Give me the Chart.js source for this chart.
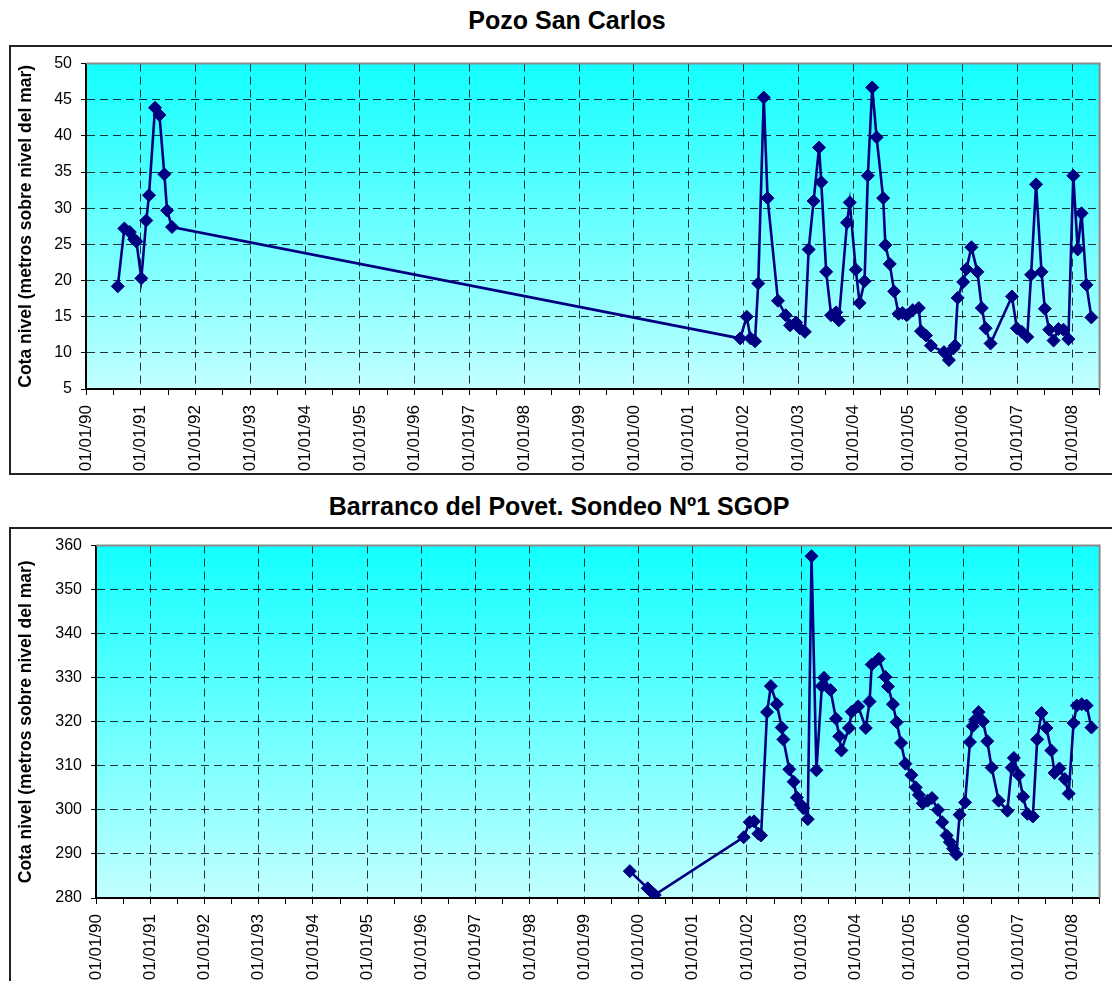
<!DOCTYPE html>
<html lang="es">
<head>
<meta charset="utf-8">
<title>Cota nivel</title>
<script src="https://cdn.jsdelivr.net/npm/chart.js@4.4.1/dist/chart.umd.min.js"></script>
<style>
    html, body { margin: 0; padding: 0; background: #fff; overflow: hidden; width: 1112px; height: 981px; }
    body { position: relative; font-family: "Liberation Sans", Arial, sans-serif; }
    .titulo { position: absolute; left: 0; text-align: center; font-weight: bold; font-size: 25px; line-height: 28px; color: #000; }
    .marco { position: absolute; left: 9px; width: 1130px; border: 2px solid #222; box-sizing: border-box; }
    canvas { position: absolute; left: 0; }
</style>
</head>
<body>
<div class="titulo" style="top:6px; width:1134px;">Pozo San Carlos</div>
<div class="marco" style="top:45px; height:430px;"></div>
<canvas id="pozoSanCarlos" width="1130" height="435" style="top:45px"></canvas>

<div class="titulo" style="top:492px; width:1118px;">Barranco del Povet. Sondeo Nº1 SGOP</div>
<div class="marco" style="top:527px; height:480px;"></div>
<canvas id="barrancoPovet" width="1130" height="460" style="top:527px"></canvas>

<script>
// fechas en años decimales, cotas en m s.n.m.
const fechasPozo = [
    1990.58, 1990.70, 1990.80, 1990.88, 1990.92, 1991.01, 1991.10, 1991.15, 1991.26, 1991.34,
    1991.43, 1991.48, 1991.57,
    2001.94, 2002.06, 2002.13, 2002.21, 2002.27, 2002.37, 2002.44, 2002.63, 2002.77, 2002.85,
    2002.96, 2003.03, 2003.12, 2003.19, 2003.28, 2003.38, 2003.42, 2003.51, 2003.60, 2003.69,
    2003.74, 2003.89, 2003.94, 2004.05, 2004.12, 2004.21, 2004.27, 2004.35, 2004.43, 2004.55,
    2004.59, 2004.67, 2004.75, 2004.83, 2004.90, 2004.98, 2005.09, 2005.20, 2005.24, 2005.33,
    2005.42, 2005.66, 2005.75, 2005.83, 2005.86, 2005.91, 2006.01, 2006.07, 2006.16, 2006.27,
    2006.35, 2006.42, 2006.51, 2006.90, 2006.99, 2007.08, 2007.18, 2007.25, 2007.34, 2007.44,
    2007.50, 2007.58, 2007.66, 2007.75, 2007.84, 2007.93, 2008.02, 2008.10, 2008.17, 2008.26,
    2008.35
];
const cotasPozo = [
    19.2, 27.2, 26.7, 25.7, 25.4, 20.3, 28.3, 31.8, 43.9, 42.9,
    34.7, 29.7, 27.4,
    12.0, 15.0, 12.0, 11.6, 19.6, 45.3, 31.4, 17.2, 15.2, 13.8,
    14.2, 13.4, 12.9, 24.3, 31.0, 38.4, 33.6, 21.2, 15.2, 15.6,
    14.5, 28.0, 30.8, 21.5, 16.9, 19.9, 34.5, 46.7, 39.8, 31.4,
    24.9, 22.3, 18.5, 15.4, 15.5, 15.2, 15.9, 16.2, 13.0, 12.4,
    11.0, 10.1, 9.0, 10.6, 11.0, 17.6, 19.8, 21.6, 24.6, 21.2,
    16.2, 13.4, 11.3, 17.8, 13.4, 12.9, 12.2, 20.8, 33.3, 21.2,
    16.1, 13.2, 11.7, 13.3, 13.2, 11.9, 34.5, 24.3, 29.3, 19.4,
    14.9
];

const fechasPovet = [
    1999.84, 2000.17, 2000.24, 2000.30,
    2001.94, 2002.05, 2002.13, 2002.21, 2002.26, 2002.37, 2002.44, 2002.55, 2002.64, 2002.67,
    2002.78, 2002.86, 2002.92, 2002.99, 2003.04, 2003.12, 2003.19, 2003.28, 2003.38, 2003.42,
    2003.54, 2003.64, 2003.70, 2003.74, 2003.88, 2003.93, 2004.05, 2004.19, 2004.26, 2004.30,
    2004.43, 2004.55, 2004.60, 2004.69, 2004.76, 2004.84, 2004.92, 2005.03, 2005.11, 2005.17,
    2005.24, 2005.33, 2005.41, 2005.52, 2005.60, 2005.68, 2005.74, 2005.80, 2005.86, 2005.92,
    2006.02, 2006.11, 2006.16, 2006.21, 2006.27, 2006.35, 2006.43, 2006.51, 2006.64, 2006.80,
    2006.88, 2006.92, 2007.01, 2007.09, 2007.17, 2007.27, 2007.35, 2007.43, 2007.52, 2007.61,
    2007.67, 2007.76, 2007.86, 2007.93, 2008.02, 2008.08, 2008.17, 2008.26, 2008.35
];
const cotasPovet = [
    286.1, 282.2, 281.4, 280.7,
    293.8, 297.2, 297.4, 294.6, 294.2, 322.2, 328.1, 324.0, 318.7, 316.0,
    309.2, 306.4, 302.8, 301.2, 300.4, 297.9, 357.6, 309.0, 328.1, 330.0,
    327.2, 320.7, 316.7, 313.5, 318.6, 322.3, 323.5, 318.6, 324.6, 333.0,
    334.3, 330.2, 328.0, 324.0, 319.9, 315.2, 310.5, 307.9, 305.1, 303.4,
    301.5, 302.1, 302.7, 300.0, 297.2, 294.2, 292.7, 291.2, 289.9, 298.9,
    301.7, 315.4, 319.0, 320.5, 322.2, 320.1, 315.6, 309.6, 302.1, 299.8,
    309.6, 311.8, 307.9, 303.0, 299.1, 298.5, 316.0, 322.0, 318.6, 313.5,
    308.4, 309.4, 307.0, 303.7, 319.7, 323.7, 324.0, 323.7, 318.7
];

// marcas del eje X: 01/01 de cada año y medio año (sin texto)
const aniosEje = [1990, 1991, 1992, 1993, 1994, 1995, 1996, 1997, 1998, 1999,
                  2000, 2001, 2002, 2003, 2004, 2005, 2006, 2007, 2008];
const marcasX = [];
aniosEje.forEach(a => { marcasX.push(a); marcasX.push(a + 0.5); });

const tituloEjeY = 'Cota nivel (metros sobre nivel del mar)';

Chart.defaults.font.family = '"Liberation Sans", Arial, sans-serif';
Chart.defaults.color = '#000';

const fondoDegradado = {
    id: 'fondoDegradado',
    beforeDraw(chart) {
        const { ctx, chartArea: a } = chart;
        const g = ctx.createLinearGradient(0, a.top, 0, a.bottom);
        g.addColorStop(0, '#12FFFF');
        g.addColorStop(1, '#C2FFFF');
        ctx.save();
        ctx.fillStyle = g;
        ctx.fillRect(a.left, a.top, a.width, a.height);
        ctx.restore();
    },
    beforeDatasetsDraw(chart) {
        const { ctx, chartArea: a } = chart;
        ctx.save();
        ctx.strokeStyle = '#8a8a8a';
        ctx.lineWidth = 2;
        ctx.beginPath();
        ctx.moveTo(a.left, a.top);
        ctx.lineTo(a.right, a.top);
        ctx.lineTo(a.right, a.bottom);
        ctx.stroke();
        ctx.restore();
    }
};

function etiquetaFecha(v) {
    if (!Number.isInteger(v)) return '';
    return '01/01/' + String(v % 100).padStart(2, '0');
}

function crearGrafico(id, fechas, cotas, cfg) {
    const ctx = document.getElementById(id).getContext('2d');
    new Chart(ctx, {
        type: 'line',
        data: {
            datasets: [{
                data: fechas.map((f, i) => ({ x: f, y: cotas[i] })),
                borderColor: '#000080',
                backgroundColor: '#000080',
                borderWidth: 2.6,
                pointStyle: 'rectRot',
                pointRadius: 6.5,
                pointBorderWidth: 1,
                tension: 0
            }]
        },
        options: {
            responsive: false,
            animation: false,
            layout: { padding: { left: 0, right: 26, top: 16, bottom: 0 } },
            plugins: {
                legend: { display: false },
                tooltip: { enabled: false }
            },
            scales: {
                x: {
                    type: 'linear',
                    min: 1990,
                    max: 2008.5,
                    afterBuildTicks: ax => { ax.ticks = marcasX.map(v => ({ value: v })); },
                    afterFit: ax => { ax.height = cfg.altoEjeX; },
                    ticks: {
                        autoSkip: false,
                        maxRotation: 90,
                        minRotation: 90,
                        padding: 10,
                        font: { size: 17 },
                        callback: etiquetaFecha
                    },
                    grid: {
                        color: c => (c.tick && Number.isInteger(c.tick.value)) ? 'rgba(0,0,0,0.8)' : 'rgba(0,0,0,0)',
                        tickColor: '#000',
                        tickLength: 6,
                        lineWidth: 1
                    },
                    border: { color: '#000', width: 2, dash: [8, 5] }
                },
                y: {
                    min: cfg.min,
                    max: cfg.max,
                    afterFit: ax => { ax.width = cfg.anchoEjeY; },
                    ticks: { stepSize: cfg.paso, padding: 9, font: { size: 16 } },
                    title: {
                        display: true,
                        text: tituloEjeY,
                        font: { size: 17.5, weight: 'bold' },
                        padding: { top: 16, bottom: 0 }
                    },
                    grid: { color: 'rgba(0,0,0,0.8)', tickColor: '#000', tickLength: 5, lineWidth: 1 },
                    border: { color: '#000', width: 2, dash: [8, 5] }
                }
            }
        },
        plugins: [fondoDegradado]
    });
}

crearGrafico('pozoSanCarlos', fechasPozo, cotasPozo, { min: 5, max: 50, paso: 5, anchoEjeY: 86, altoEjeX: 91 });
crearGrafico('barrancoPovet', fechasPovet, cotasPovet, { min: 280, max: 360, paso: 10, anchoEjeY: 96, altoEjeX: 89 });
</script>
</body>
</html>
